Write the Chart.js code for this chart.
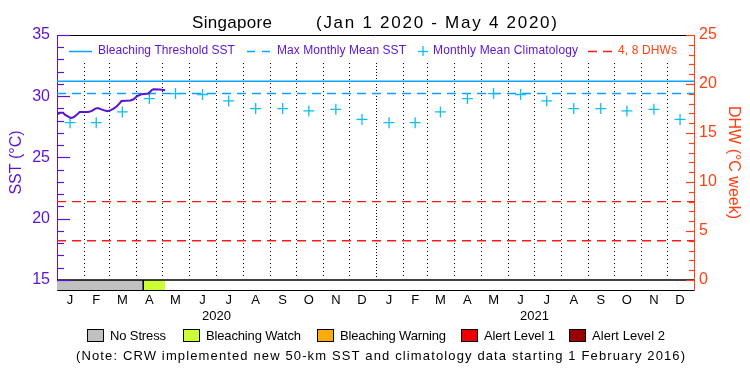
<!DOCTYPE html>
<html>
<head>
<meta charset="utf-8">
<script src="https://cdn.jsdelivr.net/npm/chart.js@4.4.1/dist/chart.umd.min.js"></script>
<style>
  body { margin: 0; background: #fff; }
</style>
</head>
<body>
<canvas id="sstChart" width="750" height="375"></canvas>
<script>
// x values are days since Jan 1 2020
var monthStarts = [0, 31, 60, 91, 121, 152, 182, 213, 244, 274, 305, 335, 366, 397, 425, 456, 486, 517, 547, 578, 609, 639, 670, 700, 731];
var midMonthDays = [15, 45, 75, 106, 136, 167, 197, 228, 259, 289, 320, 350, 381, 411, 440, 471, 501, 532, 562, 593, 624, 654, 685, 715];
var monthLabels = ['J', 'F', 'M', 'A', 'M', 'J', 'J', 'A', 'S', 'O', 'N', 'D', 'J', 'F', 'M', 'A', 'M', 'J', 'J', 'A', 'S', 'O', 'N', 'D'];
var yearDays = [183, 548];
var yearLabels = ['2020', '2021'];
var yearBoundary = 366;

// monthly mean climatology (deg C), one cross per month
var climValues = [27.84, 27.84, 28.72, 29.81, 30.22, 30.14, 29.62, 28.99, 28.99, 28.80, 28.93, 28.11,
                  27.84, 27.84, 28.72, 29.81, 30.22, 30.14, 29.62, 28.99, 28.99, 28.80, 28.93, 28.11];

// observed SST Jan 1 - May 4 2020
var sstDays = [0, 2, 3, 7, 9, 13, 16, 19, 23, 26, 36, 40, 44, 47, 51, 55, 58, 61, 65, 69, 72, 74, 84, 88, 92, 97, 105, 109, 111, 118, 124];
var sstValues = [28.66, 28.58, 28.66, 28.66, 28.50, 28.34, 28.22, 28.28, 28.50, 28.71, 28.71, 28.80, 28.99, 29.04, 28.93, 28.83, 28.77, 28.85, 28.99, 29.20, 29.43, 29.61, 29.65, 29.75, 30.02, 30.16, 30.22, 30.52, 30.57, 30.55, 30.49];

var mmm = 30.22;
var threshold = 31.22;
var dhwLevels = [4, 8];

// stress level strip: No Stress until day 99, Bleaching Watch to day 124
var stressDays = [0, 99, 124];

var sstTicks = [15, 20, 25, 30, 35];
var dhwTicks = [0, 5, 10, 15, 20, 25];
var sstMin = 14.18, sstMax = 35;
var dhwMin = -1.025, dhwMax = 25;
var dayMax = 731;

var legendItems = ['No Stress', 'Bleaching Watch', 'Bleaching Warning', 'Alert Level 1', 'Alert Level 2'];
var legendColors = ['#c0c0c0', '#ccff33', '#fbab0c', '#ee0000', '#990000'];

var family = "'Liberation Sans', Arial, sans-serif";
var purple = '#5b12d4';
var lineBlue = '#0aa2ff';
var crossBlue = '#10bcf4';
var orange = '#ff4010';
var red = '#ff1a1a';

Chart.defaults.font.family = family;

function flat(y, x0, x1) {
    return [{x: x0, y: y}, {x: x1, y: y}];
}

// draw text stretched to cover x0..x1 like the original plot
function fitText(ctx, text, x0, x1, y, color, size) {
    ctx.font = size + 'px ' + family;
    ctx.letterSpacing = '0px';
    var w = ctx.measureText(text).width;
    var sp = (x1 - x0 - w) / Math.max(text.length - 1, 1);
    ctx.letterSpacing = sp.toFixed(2) + 'px';
    ctx.fillStyle = color;
    ctx.textAlign = 'left';
    ctx.textBaseline = 'middle';
    ctx.fillText(text, x0, y);
    ctx.letterSpacing = '0px';
}

function hLine(ctx, x0, x1, y, color, dash, width) {
    ctx.beginPath();
    ctx.strokeStyle = color;
    ctx.lineWidth = width || 1;
    ctx.setLineDash(dash || []);
    ctx.moveTo(x0, y);
    ctx.lineTo(x1, y);
    ctx.stroke();
    ctx.setLineDash([]);
}

var decorations = {
    id: 'decorations',
    beforeDatasetsDraw: function(chart) {
        var ctx = chart.ctx, xs = chart.scales.x, ys = chart.scales.y, area = chart.chartArea;
        ctx.save();
        ctx.strokeStyle = '#000';
        ctx.lineWidth = 1;
        for (var i = 1; i < monthStarts.length - 1; i++) {
            var px = Math.round(xs.getPixelForValue(monthStarts[i])) + 0.5;
            // the year boundary is drawn with tighter dots
            ctx.setLineDash(monthStarts[i] === yearBoundary ? [1, 2] : [1, 3]);
            ctx.beginPath();
            ctx.moveTo(px, area.top + 28);
            ctx.lineTo(px, ys.getPixelForValue(15) - 1);
            ctx.stroke();
        }
        ctx.restore();
    },
    afterDraw: function(chart) {
        var ctx = chart.ctx, ys = chart.scales.y, y2 = chart.scales.y2, area = chart.chartArea;
        ctx.save();

        // top frame line
        hLine(ctx, area.left, area.right, area.top + 0.5, '#000', [], 1);

        // inward tick marks on both axes
        var v, py;
        for (v = 15; v <= 35; v++) {
            py = Math.round(ys.getPixelForValue(v)) + 0.5;
            hLine(ctx, area.left, area.left + (v % 5 === 0 ? 13 : 7), py, purple, [], 1.2);
        }
        for (v = 0; v <= 25; v++) {
            py = Math.round(y2.getPixelForValue(v)) + 0.5;
            hLine(ctx, area.right - (v % 5 === 0 ? 8 : 5), area.right, py, orange, [], 1.2);
        }

        // title
        fitText(ctx, 'Singapore', 192, 272, 23, '#000', 17);
        fitText(ctx, '(Jan 1 2020 - May 4 2020)', 316, 557, 23, '#000', 17);

        // legend inside the plot
        var ly = 51;
        hLine(ctx, 69, 92, ly + 0.5, lineBlue, [], 1.5);
        fitText(ctx, 'Bleaching Threshold SST', 98, 235, ly, purple, 12);
        hLine(ctx, 247, 270, ly + 0.5, lineBlue, [8, 7], 1.5);
        fitText(ctx, 'Max Monthly Mean SST', 277, 406, ly, purple, 12);
        hLine(ctx, 418, 428, ly + 0.5, crossBlue, [], 1.3);
        ctx.beginPath();
        ctx.strokeStyle = crossBlue;
        ctx.moveTo(423, ly - 5);
        ctx.lineTo(423, ly + 5);
        ctx.stroke();
        fitText(ctx, 'Monthly Mean Climatology', 433, 578, ly, purple, 12);
        hLine(ctx, 588, 612, ly + 0.5, red, [9, 6], 1.3);
        fitText(ctx, '4, 8 DHWs', 618, 677, ly, orange, 12);

        // stress legend below the plot
        var boxX = [87, 183, 317, 461, 569];
        var textEnd = [166, 301, 446, 555, 665];
        for (var i = 0; i < legendItems.length; i++) {
            ctx.fillStyle = legendColors[i];
            ctx.fillRect(boxX[i], 329, 16, 12);
            ctx.strokeStyle = '#000';
            ctx.lineWidth = 1;
            ctx.strokeRect(boxX[i] + 0.5, 329.5, 16, 12);
            fitText(ctx, legendItems[i], boxX[i] + 23, textEnd[i], 336, '#000', 13);
        }
        fitText(ctx, '(Note: CRW implemented new 50-km SST and climatology data starting 1 February 2016)', 76, 685, 356, '#000', 13);

        ctx.restore();
    }
};

var ctx = document.getElementById('sstChart').getContext('2d');

var sstChart = new Chart(ctx, {
    type: 'line',
    data: {
        datasets: [
            {
                label: 'SST',
                data: sstDays.map(function(d, i) { return {x: d, y: sstValues[i]}; }),
                borderColor: purple,
                borderWidth: 2,
                pointRadius: 0,
                yAxisID: 'y',
                order: 1
            },
            {
                label: 'Monthly Mean Climatology',
                data: midMonthDays.map(function(d, i) { return {x: d, y: climValues[i]}; }),
                showLine: false,
                pointStyle: 'cross',
                pointRadius: 5.5,
                borderColor: crossBlue,
                borderWidth: 1.3,
                yAxisID: 'y',
                order: 2
            },
            {
                label: 'Bleaching Threshold SST',
                data: flat(threshold, 0, dayMax),
                borderColor: lineBlue,
                borderWidth: 1.5,
                pointRadius: 0,
                yAxisID: 'y',
                order: 3
            },
            {
                label: 'Max Monthly Mean SST',
                data: flat(mmm, 0, dayMax),
                borderColor: lineBlue,
                borderWidth: 1.5,
                borderDash: [9, 6],
                pointRadius: 0,
                yAxisID: 'y',
                order: 3
            },
            {
                label: '4 DHWs',
                data: flat(dhwLevels[0], 0, dayMax),
                borderColor: red,
                borderWidth: 1.3,
                borderDash: [9, 6],
                pointRadius: 0,
                yAxisID: 'y2',
                order: 4
            },
            {
                label: '8 DHWs',
                data: flat(dhwLevels[1], 0, dayMax),
                borderColor: red,
                borderWidth: 1.3,
                borderDash: [9, 6],
                pointRadius: 0,
                yAxisID: 'y2',
                order: 4
            },
            {
                label: 'DHW',
                data: flat(0, 0, dayMax),
                borderColor: '#000',
                borderWidth: 1.5,
                pointRadius: 0,
                yAxisID: 'y2',
                order: 5
            },
            {
                label: 'No Stress',
                data: flat(15, stressDays[0], stressDays[1]),
                fill: 'start',
                backgroundColor: legendColors[0],
                borderWidth: 0,
                pointRadius: 0,
                yAxisID: 'y',
                order: 10
            },
            {
                label: 'Bleaching Watch',
                data: flat(15, stressDays[1], stressDays[2]),
                fill: 'start',
                backgroundColor: legendColors[1],
                borderWidth: 0,
                pointRadius: 0,
                yAxisID: 'y',
                order: 10
            },
            {
                label: 'stress change',
                data: [{x: stressDays[1], y: 15}, {x: stressDays[1], y: sstMin}],
                borderColor: '#000',
                borderWidth: 1,
                pointRadius: 0,
                yAxisID: 'y',
                order: 6
            }
        ]
    },
    plugins: [decorations],
    options: {
        responsive: false,
        animation: false,
        layout: { padding: { top: 35, bottom: 51, left: 0, right: 0 } },
        plugins: {
            legend: { display: false },
            tooltip: { enabled: false }
        },
        scales: {
            x: {
                type: 'linear',
                position: 'bottom',
                min: 0,
                max: dayMax,
                afterBuildTicks: function(scale) {
                    scale.ticks = midMonthDays.map(function(d) { return {value: d}; });
                },
                afterFit: function(scale) { scale.height = 18; },
                ticks: {
                    autoSkip: false,
                    maxRotation: 0,
                    padding: 3,
                    color: '#000',
                    font: { size: 13 },
                    callback: function(value, index) { return monthLabels[index]; }
                },
                grid: { display: false, drawTicks: false },
                border: { color: '#000', width: 1 }
            },
            xYear: {
                type: 'linear',
                position: 'bottom',
                weight: 1,
                min: 0,
                max: dayMax,
                afterBuildTicks: function(scale) {
                    scale.ticks = yearDays.map(function(d) { return {value: d}; });
                },
                afterFit: function(scale) { scale.height = 16; },
                ticks: {
                    autoSkip: false,
                    maxRotation: 0,
                    padding: 1,
                    color: '#000',
                    font: { size: 13 },
                    callback: function(value, index) { return yearLabels[index]; }
                },
                grid: { display: false, drawTicks: false },
                border: { display: false }
            },
            y: {
                position: 'left',
                min: sstMin,
                max: sstMax,
                afterBuildTicks: function(scale) {
                    scale.ticks = sstTicks.map(function(v) { return {value: v}; });
                },
                afterFit: function(scale) { scale.width = 57; },
                ticks: { color: purple, padding: 7, font: { size: 16 } },
                grid: { display: false, drawTicks: false },
                border: { color: purple, width: 1 },
                title: { display: true, text: 'SST (°C)', color: purple, font: { size: 16 }, padding: { top: 7, bottom: 0 } }
            },
            y2: {
                position: 'right',
                min: dhwMin,
                max: dhwMax,
                afterBuildTicks: function(scale) {
                    scale.ticks = dhwTicks.map(function(v) { return {value: v}; });
                },
                afterFit: function(scale) { scale.width = 56; },
                ticks: { color: orange, padding: 5, font: { size: 16 } },
                grid: { display: false, drawTicks: false },
                border: { color: orange, width: 1 },
                title: { display: true, text: 'DHW (°C week)', color: orange, font: { size: 16 }, padding: { top: 7, bottom: 0 } }
            }
        }
    }
});
</script>
</body>
</html>
